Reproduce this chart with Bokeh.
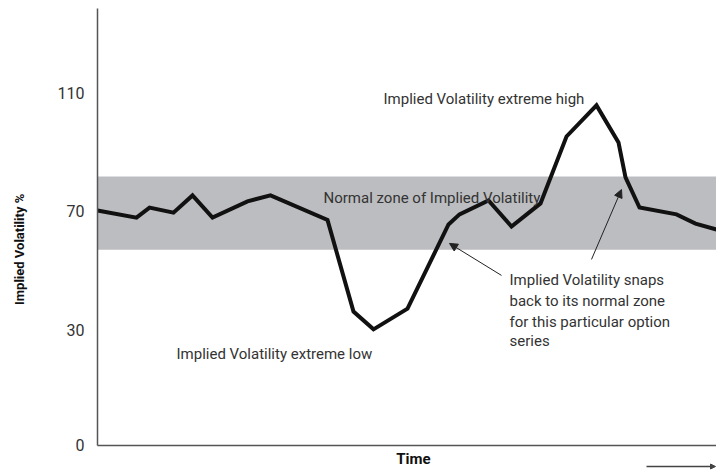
from math import pi
from bokeh.plotting import figure
from bokeh.models import Range1d, FixedTicker, Label, Arrow, NormalHead, BoxAnnotation
from bokeh.embed import file_html
from bokeh.resources import INLINE

# ---- data ----
time = [0, 39, 52, 76, 95, 115, 150, 173, 230, 256, 276, 310, 351, 362, 391,
        414, 443, 469, 499, 521, 528, 542, 579, 598, 619]
implied_vol = [70.3, 67.9, 71.3, 69.6, 75.4, 67.9, 73.4, 75.4, 67.1, 36.2, 30.2,
               37.2, 65.6, 69.0, 73.7, 64.9, 72.7, 95.3, 105.8, 93.3, 81.5, 71.3,
               69.0, 65.9, 63.9]
normal_zone_low = 57.1
normal_zone_high = 81.8
y_tick_pos = [-9, 30, 70, 110]
y_tick_labels = ["0", "30", "70", "110"]
time_start, time_end = 0, 619
y_axis_bottom, y_axis_top = -9, 138.5

FONT = "Roboto"
TXT = "#333333"

p = figure(width=716, height=473, output_backend="svg", toolbar_location=None,
           x_range=Range1d(-97, 619), y_range=Range1d(-18.46, 141.2),
           min_border_left=0, min_border_right=0, min_border_top=0,
           min_border_bottom=0)
p.outline_line_color = None
p.xgrid.visible = False
p.ygrid.visible = False
p.background_fill_color = "white"

# axes, pinned at the origin of the chart
p.yaxis.fixed_location = time_start
p.yaxis.bounds = (y_axis_bottom, y_axis_top)
p.yaxis.ticker = FixedTicker(ticks=y_tick_pos)
p.yaxis.major_label_overrides = dict(zip(y_tick_pos, y_tick_labels))
p.yaxis.major_tick_line_color = None
p.yaxis.minor_tick_line_color = None
p.yaxis.major_label_standoff = 7
p.yaxis.major_label_text_font = FONT
p.yaxis.major_label_text_font_size = "16px"
p.yaxis.major_label_text_color = TXT
p.yaxis.axis_line_color = "#555555"
p.yaxis.axis_line_width = 1.5

p.xaxis.fixed_location = y_axis_bottom
p.xaxis.bounds = (time_start, time_end)
p.xaxis.ticker = FixedTicker(ticks=[])
p.xaxis.major_tick_line_color = None
p.xaxis.minor_tick_line_color = None
p.xaxis.major_label_text_color = None
p.xaxis.axis_line_color = "#555555"
p.xaxis.axis_line_width = 1.5

# normal zone band
p.add_layout(BoxAnnotation(left=time_start, right=time_end,
                           bottom=normal_zone_low, top=normal_zone_high,
                           fill_color="#bcbdc0", fill_alpha=1.0,
                           line_color=None, level="underlay"))

# IV line
p.line(time, implied_vol, line_color="#111111", line_width=4, line_join="miter")

def add_text(x, y, text, size="15px", style="normal", align="left",
             baseline="alphabetic", angle=0, color=TXT):
    p.add_layout(Label(x=x, y=y, text=text, text_font=FONT, text_font_size=size,
                       text_font_style=style, text_color=color, text_align=align,
                       text_baseline=baseline, angle=angle))

add_text(286, 108.1, "Implied Volatility extreme high")
add_text(226, 74.7, "Normal zone of Implied Volatility")
add_text(79, 22.0, "Implied Volatility extreme low")
snap_lines = ["Implied Volatility snaps", "back to its normal zone",
              "for this particular option", "series"]
for yy, t in zip([46.7, 39.8, 32.8, 26.1], snap_lines):
    add_text(412, yy, t)

# axis titles
add_text(-78, 57.2, "Implied Volatility %", size="13px", style="bold",
         align="center", baseline="middle", angle=pi / 2, color="#111111")
add_text(316, -13.7, "Time", size="15px", style="bold", align="center",
         baseline="middle", color="#111111")

# arrows
p.add_layout(Arrow(x_start=404, y_start=48.4, x_end=352, y_end=59.2,
                   line_color="#222222", line_width=1,
                   end=NormalHead(size=8, fill_color="#222222", line_color="#222222")))
p.add_layout(Arrow(x_start=494, y_start=53.8, x_end=524, y_end=77.4,
                   line_color="#222222", line_width=1,
                   end=NormalHead(size=8, fill_color="#222222", line_color="#222222")))
p.add_layout(Arrow(x_start=549, y_start=-16.1, x_end=618, y_end=-16.1,
                   line_color="#444444", line_width=1.5,
                   end=NormalHead(size=5, fill_color="#444444", line_color="#444444")))

open("out.html", "w").write(file_html(p, INLINE))
